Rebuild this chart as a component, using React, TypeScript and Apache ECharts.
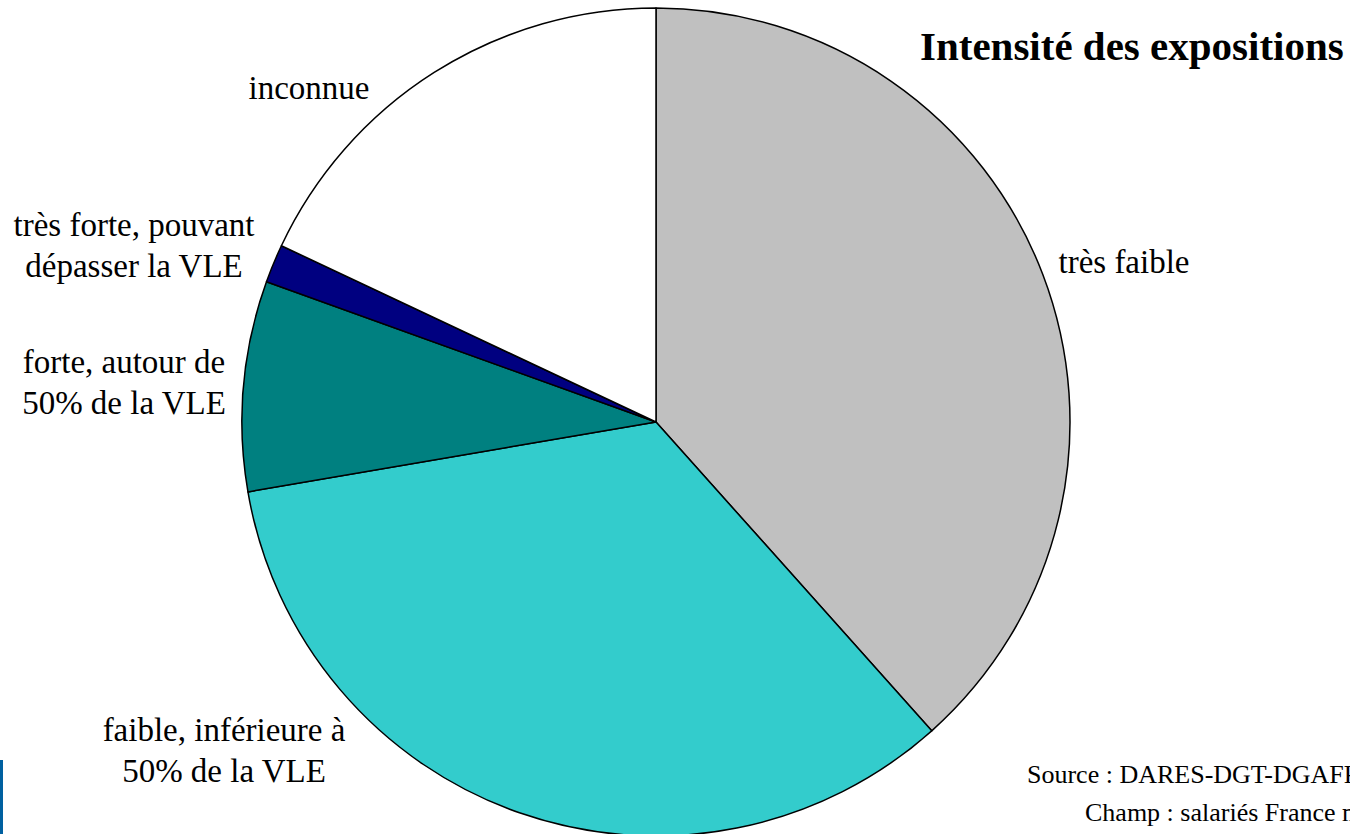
import React, { useEffect, useRef } from "react";
import * as echarts from "echarts";

const categories = [
  "très faible",
  "faible, inférieure à\n50% de la VLE",
  "forte, autour de\n50% de la VLE",
  "très forte, pouvant\ndépasser la VLE",
  "inconnue",
];
const values = [38.4, 33.9, 8.2, 1.5, 18.0];
const colors = ["#C0C0C0", "#33CCCC", "#008080", "#000080", "#FFFFFF"];
const labelPos: [number, number][] = [
  [1124, 262],
  [224, 750],
  [124, 382],
  [134, 245],
  [309, 88],
];
const titleText = "Intensité des expositions";
const sourceLines = ["Source : DARES-DGT-DGAFP", "Champ : salariés France métropolitaine"];

const SERIF = "'Liberation Serif', 'Times New Roman', serif";

export default function App() {
  const ref = useRef<HTMLDivElement>(null);
  useEffect(() => {
    if (!ref.current) return;
    const chart = echarts.init(ref.current, undefined, { renderer: "svg" });
    chart.setOption({
      animation: false,
      backgroundColor: "#FFFFFF",
      graphic: [
        {
          type: "text",
          left: 920,
          top: 25,
          style: { text: titleText, font: `bold 41px ${SERIF}`, fill: "#000" },
        },
        {
          type: "text",
          x: 1027,
          y: 774,
          style: { text: sourceLines[0], font: `26px ${SERIF}`, fill: "#000", verticalAlign: "middle" },
        },
        {
          type: "text",
          x: 1085,
          y: 812,
          style: { text: sourceLines[1], font: `26px ${SERIF}`, fill: "#000", verticalAlign: "middle" },
        },
        {
          type: "rect",
          shape: { x: 0, y: 760, width: 3, height: 74 },
          style: { fill: "#0060A0" },
        },
      ],
      series: [
        {
          type: "pie",
          center: [656, 422],
          radius: 414,
          startAngle: 90,
          clockwise: true,
          itemStyle: { borderColor: "#000", borderWidth: 1.5 },
          emphasis: { disabled: true },
          label: {
            show: true,
            position: "outside",
            alignTo: "none",
            overflow: "none",
            fontFamily: SERIF,
            fontSize: 33,
            lineHeight: 41,
            color: "#000",
            align: "center",
            formatter: (p: any) => p.name,
          },
          labelLine: { show: false },
          labelLayout: (p: any) => ({
            x: labelPos[p.dataIndex][0],
            y: labelPos[p.dataIndex][1],
            align: "center",
            verticalAlign: "middle",
          }),
          data: categories.map((c, i) => ({
            name: c,
            value: values[i],
            itemStyle: { color: colors[i] },
          })),
        },
      ],
    });
    return () => chart.dispose();
  }, []);
  return (
    <div
      ref={ref}
      style={{ position: "fixed", left: 0, top: 0, width: 1350, height: 834 }}
    />
  );
}
